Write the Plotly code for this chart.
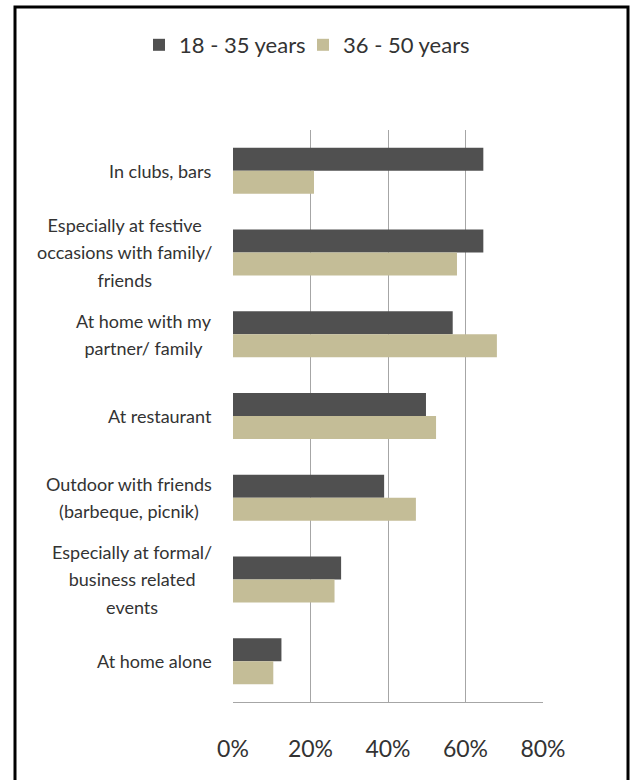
import plotly.graph_objects as go

categories = [
    "In clubs, bars",
    "Especially at festive<br>occasions with family/<br>friends",
    "At home with my<br>partner/ family",
    "At restaurant",
    "Outdoor with friends<br>(barbeque, picnik)",
    "Especially at formal/<br>business related<br>events",
    "At home alone",
]
series_names = ["18 - 35 years", "36 - 50 years"]
values_18_35 = [64.6, 64.6, 56.7, 49.8, 39.0, 27.9, 12.5]
values_36_50 = [20.9, 57.8, 68.1, 52.4, 47.2, 26.2, 10.4]
tick_values = [0, 20, 40, 60, 80]
tick_labels = ["0%", "20%", "40%", "60%", "80%"]

FONT = "Lato"
TEXT = "#333333"
cat_ids = list(range(len(categories)))

fig = go.Figure()
fig.add_trace(go.Bar(y=cat_ids, x=values_18_35, name=series_names[0],
                     orientation="h", legend="legend",
                     marker=dict(color="#505050", line=dict(width=0))))
fig.add_trace(go.Bar(y=cat_ids, x=values_36_50, name=series_names[1],
                     orientation="h", legend="legend2",
                     marker=dict(color="#c4bd97", line=dict(width=0))))

W, H = 632, 780
L, R, T, B = 233, 89, 130, 78
pw = W - L - R
ph = H - T - B

def px_x(p):
    return (p - L) / pw

def px_y(p):
    return (H - B - p) / ph

annotations = []
for i, c in enumerate(categories):
    lines = c.split("<br>")
    txt = "<br>".join("<span style='font-size:18px'>%s</span>" % ln for ln in lines)
    annotations.append(dict(
        x=px_x(214), xref="paper", y=i, yref="y",
        text=txt, showarrow=False, xanchor="right", yanchor="middle",
        align="center", font=dict(family=FONT, size=21, color=TEXT),
    ))

legend_style = dict(orientation="h", xanchor="left", y=px_y(45), yanchor="middle",
                    font=dict(family=FONT, size=22, color=TEXT),
                    bgcolor="rgba(0,0,0,0)")

fig.update_layout(
    width=W, height=H,
    margin=dict(l=L, r=R, t=T, b=B),
    paper_bgcolor="white", plot_bgcolor="white",
    barmode="group", bargap=0.437, bargroupgap=0,
    showlegend=True,
    legend=dict(x=px_x(139), **legend_style),
    legend2=dict(x=px_x(303), **legend_style),
    xaxis=dict(range=[0, 80], tickvals=tick_values, ticktext=tick_labels,
               showgrid=True, gridcolor="#a6a6a6", gridwidth=1,
               zeroline=False, showline=True, linecolor="#a6a6a6", linewidth=1,
               ticks="", ticklabelstandoff=26,
               tickfont=dict(family=FONT, size=23, color=TEXT), fixedrange=True),
    yaxis=dict(range=[len(categories) - 0.5, -0.5], showticklabels=False,
               showgrid=False, zeroline=False, showline=False, ticks="",
               fixedrange=True),
    annotations=annotations,
    shapes=[dict(type="rect", xref="paper", yref="paper",
                 x0=px_x(15), x1=px_x(628), y0=px_y(800), y1=px_y(7),
                 line=dict(color="black", width=3), fillcolor="rgba(0,0,0,0)")],
)

fig.write_html("out.html", config={"displayModeBar": False},
               post_script="document.body.style.margin='0';")
